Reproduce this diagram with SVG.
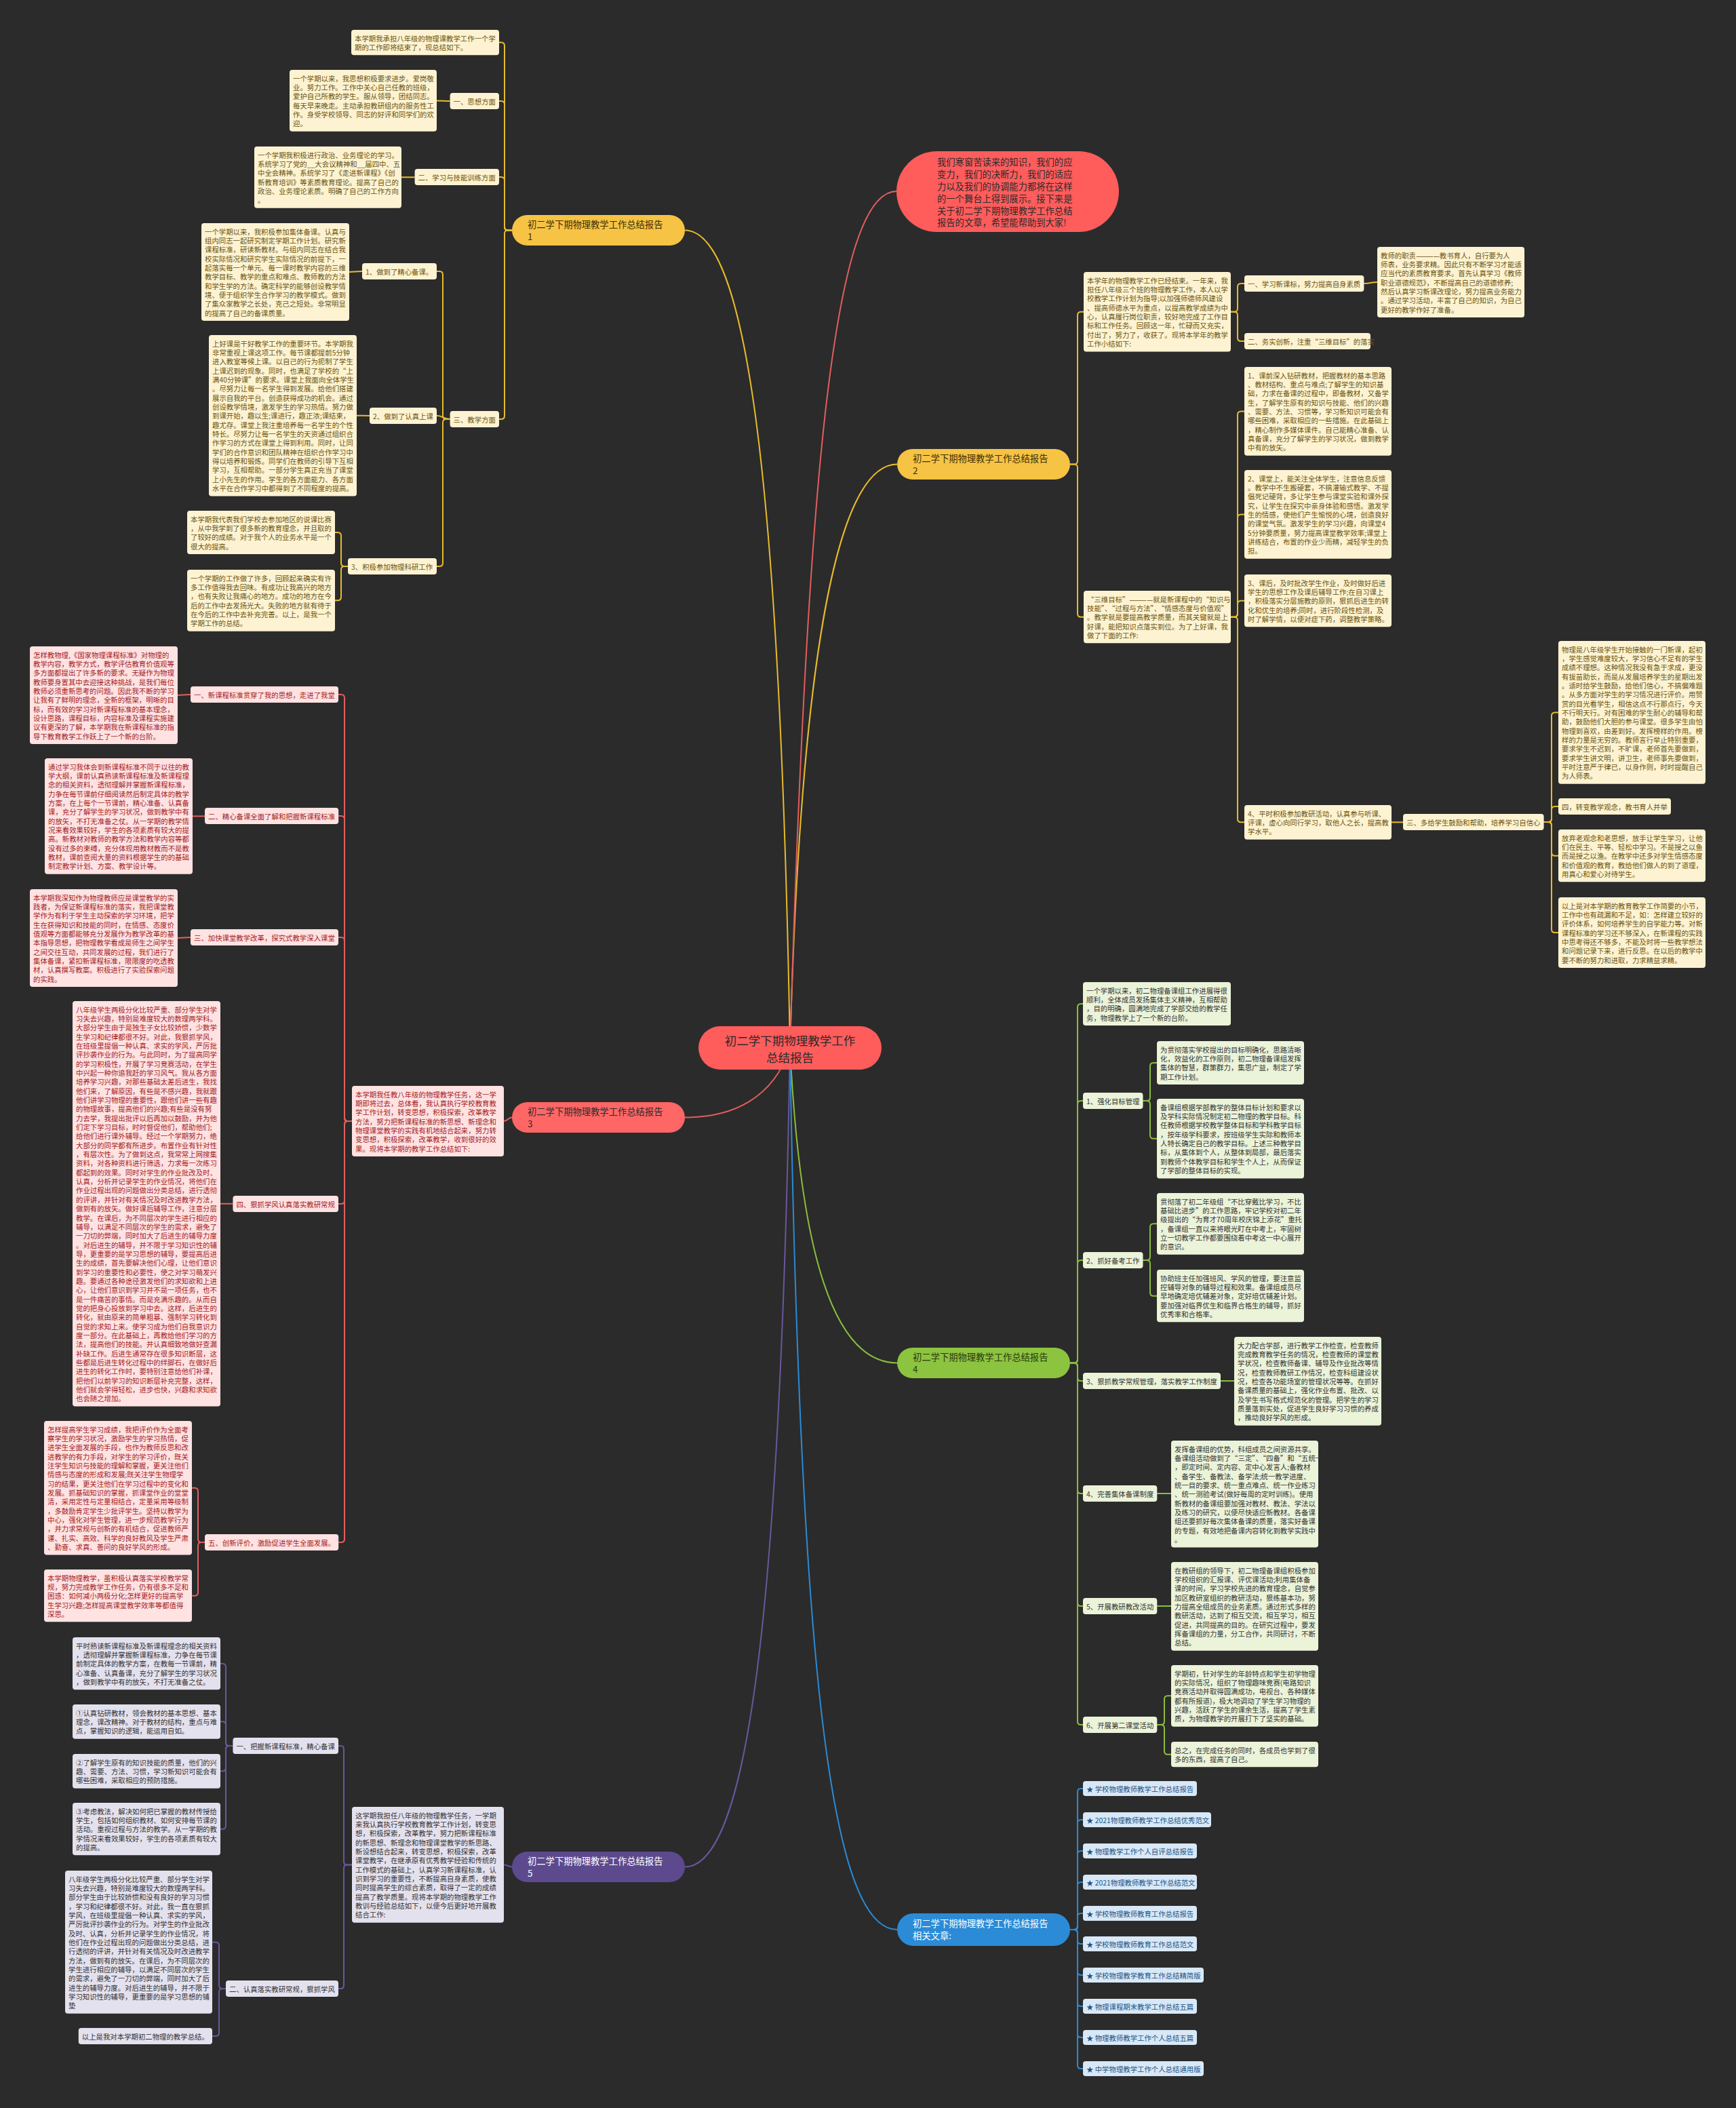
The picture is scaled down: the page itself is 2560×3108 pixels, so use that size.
<svg xmlns="http://www.w3.org/2000/svg" width="2560" height="3108" viewBox="0 0 2560 3108">
<style>
text{font-family:"Noto Sans CJK SC","Noto Sans",sans-serif;font-size:10.4px}
.c{fill:none;stroke-width:2}
.cg{stroke:#e8bb2c}.cr{stroke:#e25e5e}.cn{stroke:#8bbd3c}.cp{stroke:#6a579c}.cb{stroke:#2b8bd6}
.bg{fill:#fdf3d2}.tg{fill:#6b5410}
.br{fill:#ffe2e2}.tr{fill:#a31d26}
.bn{fill:#ebf3d9}.tn{fill:#333333}
.bp{fill:#e4e1ee}.tp{fill:#333333}
.bb{fill:#d8e8f6}.tb{fill:#1c5488}
.nt{font-size:13.3px}
</style>
<rect x="0" y="0" width="2560" height="3108" fill="#2b2b2b"/>

<g id="connectors">
<path class="c cg" stroke-width="2.5" d="M1165 1545 C1150 700 1100 339.5 1010 339.5"/>
<path class="c cg" stroke-width="2.5" d="M1165 1545 C1180 1000 1230 684.5 1323 684.5"/>
<path class="c cr" stroke-width="2.5" d="M1165 1545 C1190 700 1230 282 1322 282"/>
<path class="c cr" stroke-width="2.5" d="M1165 1545 C1140 1620 1080 1647.5 1010 1647.5"/>
<path class="c cn" stroke-width="2.5" d="M1165 1545 C1180 1850 1230 2009.5 1323 2009.5"/>
<path class="c cp" stroke-width="2.5" d="M1165 1545 C1150 2400 1100 2752.5 1010 2752.5"/>
<path class="c cb" stroke-width="2.5" d="M1165 1545 C1180 2500 1230 2845 1323 2845"/>

<path class="c cg" d="M736 62.6 H739 Q744 62.6 744 67.6 V334.5 Q744 339.5 749 339.5 H755"/>
<path class="c cg" d="M736 149 H739 Q744 149 744 154 V334.5 Q744 339.5 749 339.5 H755"/>
<path class="c cg" d="M736 261 H739 Q744 261 744 266 V334.5 Q744 339.5 749 339.5 H755"/>
<path class="c cg" d="M736 618 H739 Q744 618 744 613 V344.5 Q744 339.5 749 339.5 H755"/>
<path class="c cg" d="M644 148.4 C654 148.4 654 149 663.6 149"/>
<path class="c cg" d="M592 261.3 H611.6"/>
<path class="c cg" d="M643 400 H648 Q653 400 653 405 V613 Q653 618 658 618 H663.6"/>
<path class="c cg" d="M643.9 612.7 C653 612.7 653 618 663.6 618"/>
<path class="c cg" d="M643 835 H648 Q653 835 653 830 V623 Q653 618 658 618 H663.6"/>
<path class="c cg" d="M515 401 C524 401 524 400 534 400"/>
<path class="c cg" d="M526 612.7 C535 612.7 535 613 545 613"/>
<path class="c cg" d="M494 785 H498 Q503 785 503 790 V830 Q503 835 508 835 H513"/>
<path class="c cg" d="M494 885.3 H498 Q503 885.3 503 880.3 V840 Q503 835 508 835 H513"/>

<path class="c cg" d="M1598 459.7 H1594 Q1589 459.7 1589 464.7 V679.5 Q1589 684.5 1584 684.5 H1578"/>
<path class="c cg" d="M1598 909.7 H1594 Q1589 909.7 1589 904.7 V689.5 Q1589 684.5 1584 684.5 H1578"/>
<path class="c cg" d="M1835 418 H1830 Q1825 418 1825 423 V454.7 Q1825 459.7 1820 459.7 H1815"/>
<path class="c cg" d="M1835 503 H1830 Q1825 503 1825 498 V464.7 Q1825 459.7 1820 459.7 H1815"/>
<path class="c cg" d="M2011.4 418 C2021 418 2021 416 2031 416"/>
<path class="c cg" d="M1835 606.4 H1830 Q1825 606.4 1825 611.4 V904.7 Q1825 909.7 1820 909.7 H1815"/>
<path class="c cg" d="M1835 758.4 H1830 Q1825 758.4 1825 763.4 V904.7 Q1825 909.7 1820 909.7 H1815"/>
<path class="c cg" d="M1835 885.7 H1830 Q1825 885.7 1825 890.7 V904.7 Q1825 909.7 1820 909.7 H1815"/>
<path class="c cg" d="M1835 1212.3 H1830 Q1825 1212.3 1825 1207.3 V914.7 Q1825 909.7 1820 909.7 H1815"/>
<path class="c cg" d="M2052 1212.3 H2069"/>
<path class="c cg" d="M2298 1050.4 H2293 Q2288 1050.4 2288 1055.4 V1207 Q2288 1212 2283 1212 H2276.6"/>
<path class="c cg" d="M2298 1189 H2293 Q2288 1189 2288 1194 V1207 Q2288 1212 2283 1212 H2276.6"/>
<path class="c cg" d="M2298 1261.7 H2293 Q2288 1261.7 2288 1256.7 V1217 Q2288 1212 2283 1212 H2276.6"/>
<path class="c cg" d="M2298 1375 H2293 Q2288 1375 2288 1370 V1217 Q2288 1212 2283 1212 H2276.6"/>

<path class="c cr" d="M743 1653 C749 1653 749 1647.5 755 1647.5"/>
<path class="c cr" d="M499 1024 H503 Q508 1024 508 1029 V1648 Q508 1653 513 1653 H519"/>
<path class="c cr" d="M499.2 1203 H503 Q508 1203 508 1208 V1648 Q508 1653 513 1653 H519"/>
<path class="c cr" d="M499 1382 H503 Q508 1382 508 1387 V1648 Q508 1653 513 1653 H519"/>
<path class="c cr" d="M499 1775 H503 Q508 1775 508 1770 V1658 Q508 1653 513 1653 H519"/>
<path class="c cr" d="M499.2 2274 H503 Q508 2274 508 2269 V1658 Q508 1653 513 1653 H519"/>
<path class="c cr" d="M262 1025 C271 1025 271 1024 281 1024"/>
<path class="c cr" d="M284 1203.4 H302"/>
<path class="c cr" d="M262 1383 C271 1383 271 1382 281 1382"/>
<path class="c cr" d="M325 1774.8 H343.4"/>
<path class="c cr" d="M283 2193.7 H287 Q292 2193.7 292 2198.7 V2269 Q292 2274 297 2274 H302"/>
<path class="c cr" d="M283 2352.7 H287 Q292 2352.7 292 2347.7 V2279 Q292 2274 297 2274 H302"/>

<path class="c cp" d="M743 2749.4 C749 2749.4 749 2752.5 755 2752.5"/>
<path class="c cp" d="M499 2574 H502 Q507 2574 507 2579 V2744.4 Q507 2749.4 512 2749.4 H519"/>
<path class="c cp" d="M499 2932 H502 Q507 2932 507 2927 V2754.4 Q507 2749.4 512 2749.4 H519"/>
<path class="c cp" d="M325 2452.7 H328 Q333 2452.7 333 2457.7 V2569 Q333 2574 338 2574 H343.4"/>
<path class="c cp" d="M325 2538.3 H328 Q333 2538.3 333 2543.3 V2569 Q333 2574 338 2574 H343.4"/>
<path class="c cp" d="M325 2611.3 H328 Q333 2611.3 333 2606.3 V2579 Q333 2574 338 2574 H343.4"/>
<path class="c cp" d="M325 2696.7 H328 Q333 2696.7 333 2691.7 V2579 Q333 2574 338 2574 H343.4"/>
<path class="c cp" d="M313 2863.4 H318 Q323 2863.4 323 2868.4 V2927 Q323 2932 328 2932 H333"/>
<path class="c cp" d="M313 3002 H318 Q323 3002 323 2997 V2937 Q323 2932 328 2932 H333"/>

<path class="c cn" d="M1597 1480 H1594 Q1589 1480 1589 1485 V2004.5 Q1589 2009.5 1584 2009.5 H1578"/>
<path class="c cn" d="M1597 1623 H1594 Q1589 1623 1589 1628 V2004.5 Q1589 2009.5 1584 2009.5 H1578"/>
<path class="c cn" d="M1597 1858 H1594 Q1589 1858 1589 1863 V2004.5 Q1589 2009.5 1584 2009.5 H1578"/>
<path class="c cn" d="M1597 2036 H1594 Q1589 2036 1589 2031 V2014.5 Q1589 2009.5 1584 2009.5 H1578"/>
<path class="c cn" d="M1597 2202 H1594 Q1589 2202 1589 2197 V2014.5 Q1589 2009.5 1584 2009.5 H1578"/>
<path class="c cn" d="M1597 2368 H1594 Q1589 2368 1589 2363 V2014.5 Q1589 2009.5 1584 2009.5 H1578"/>
<path class="c cn" d="M1597 2543 H1594 Q1589 2543 1589 2538 V2014.5 Q1589 2009.5 1584 2009.5 H1578"/>
<path class="c cn" d="M1706 1567 H1701 Q1696 1567 1696 1572 V1618 Q1696 1623 1691 1623 H1685.5"/>
<path class="c cn" d="M1706 1678.7 H1701 Q1696 1678.7 1696 1673.7 V1628 Q1696 1623 1691 1623 H1685.5"/>
<path class="c cn" d="M1706 1804.3 H1701 Q1696 1804.3 1696 1809.3 V1853 Q1696 1858 1691 1858 H1685.5"/>
<path class="c cn" d="M1706 1910.7 H1701 Q1696 1910.7 1696 1905.7 V1863 Q1696 1858 1691 1858 H1685.5"/>
<path class="c cn" d="M1799.9 2036 H1820"/>
<path class="c cn" d="M1706.3 2202 H1727"/>
<path class="c cn" d="M1706.3 2368 H1727"/>
<path class="c cn" d="M1727 2500.3 H1722 Q1717 2500.3 1717 2505.3 V2538 Q1717 2543 1712 2543 H1706.3"/>
<path class="c cn" d="M1727 2586.7 H1722 Q1717 2586.7 1717 2581.7 V2548 Q1717 2543 1712 2543 H1706.3"/>

<path class="c cb" d="M1597 2637 H1594 Q1589 2637 1589 2642 V2840 Q1589 2845 1584 2845 H1578"/>
<path class="c cb" d="M1597 2683 H1594 Q1589 2683 1589 2688 V2840 Q1589 2845 1584 2845 H1578"/>
<path class="c cb" d="M1597 2729 H1594 Q1589 2729 1589 2734 V2840 Q1589 2845 1584 2845 H1578"/>
<path class="c cb" d="M1597 2775 H1594 Q1589 2775 1589 2780 V2840 Q1589 2845 1584 2845 H1578"/>
<path class="c cb" d="M1597 2821 H1594 Q1589 2821 1589 2826 V2840 Q1589 2845 1584 2845 H1578"/>
<path class="c cb" d="M1597 2866 H1594 Q1589 2866 1589 2861 V2850 Q1589 2845 1584 2845 H1578"/>
<path class="c cb" d="M1597 2912 H1594 Q1589 2912 1589 2907 V2850 Q1589 2845 1584 2845 H1578"/>
<path class="c cb" d="M1597 2958 H1594 Q1589 2958 1589 2953 V2850 Q1589 2845 1584 2845 H1578"/>
<path class="c cb" d="M1597 3004 H1594 Q1589 3004 1589 2999 V2850 Q1589 2845 1584 2845 H1578"/>
<path class="c cb" d="M1597 3050 H1594 Q1589 3050 1589 3045 V2850 Q1589 2845 1584 2845 H1578"/>
</g>

<g id="center">
<rect x="1030" y="1513" width="270" height="64" rx="32" fill="#ff5c5c"/>
<text x="1165" y="1541" text-anchor="middle" fill="#2b2b2b" style="font-size:17.5px"><tspan>初二学下期物理教学工作</tspan><tspan x="1165" dy="25">总结报告</tspan></text>
</g>

<g id="callout">
<rect x="1322" y="223" width="328" height="119" rx="59.5" fill="#ff5c5c"/>
<text x="1382" y="244.3" fill="#2b2b2b" style="font-size:13.3px"><tspan>我们寒窗苦读来的知识，我们的应</tspan><tspan x="1382" dy="17.8">变力，我们的决断力，我们的适应</tspan><tspan x="1382" dy="17.8">力以及我们的协调能力都将在这样</tspan><tspan x="1382" dy="17.8">的一个舞台上得到展示。接下来是</tspan><tspan x="1382" dy="17.8">关于初二学下期物理教学工作总结</tspan><tspan x="1382" dy="17.8">报告的文章，希望能帮助到大家!</tspan></text>
</g>

<g id="branch1">
<rect x="755" y="317" width="255" height="45" rx="22.5" fill="#f6c344"/>
<text class="nt" x="778" y="335.5" fill="#3d2f08"><tspan>初二学下期物理教学工作总结报告</tspan><tspan x="778" dy="18">1</tspan></text>
</g>
<g id="b1-intro"><rect class="bg" x="518" y="44" width="218" height="37.34" rx="4"/><text class="tg" x="523" y="60.7"><tspan>本学期我承担八年级的物理课教学工作一个学</tspan><tspan x="523" dy="13.34">期的工作即将结束了，现总结如下。</tspan></text></g>
<g id="b1-l1"><rect class="bg" x="663.6" y="137" width="72.4" height="24" rx="4"/><text class="tg" x="668.6" y="153.7">一、思想方面</text></g>
<g id="b1-t1"><rect class="bg" x="427" y="103" width="217" height="90.7" rx="4"/><text class="tg" x="432" y="119.7"><tspan>一个学期以来，我思想积极要求进步。爱岗敬</tspan><tspan x="432" dy="13.34">业。努力工作。工作中关心自己任教的班级，</tspan><tspan x="432" dy="13.34">爱护自己所教的学生。服从领导，团结同志。</tspan><tspan x="432" dy="13.34">每天早来晚走。主动承担教研组内的服务性工</tspan><tspan x="432" dy="13.34">作。身受学校领导、同志的好评和同学们的欢</tspan><tspan x="432" dy="13.34">迎。</tspan></text></g>
<g id="b1-l2"><rect class="bg" x="611.6" y="249" width="124.4" height="24" rx="4"/><text class="tg" x="616.6" y="265.7">二、学习与技能训练方面</text></g>
<g id="b1-t2"><rect class="bg" x="375" y="216" width="217" height="90.7" rx="4"/><text class="tg" x="380" y="232.7"><tspan>一个学期我积极进行政治、业务理论的学习。</tspan><tspan x="380" dy="13.34">系统学习了党的__大会议精神和__届四中、五</tspan><tspan x="380" dy="13.34">中全会精神。系统学习了《走进新课程》《创</tspan><tspan x="380" dy="13.34">新教育培训》等素质教育理论。提高了自己的</tspan><tspan x="380" dy="13.34">政治、业务理论素质。明确了自己的工作方向</tspan><tspan x="380" dy="13.34">。</tspan></text></g>
<g id="b1-l3"><rect class="bg" x="663.6" y="606" width="72.4" height="24" rx="4"/><text class="tg" x="668.6" y="622.7">三、教学方面</text></g>
<g id="b1-s1"><rect class="bg" x="534" y="388" width="110" height="24" rx="4"/><text class="tg" x="539" y="404.7">1、做到了精心备课。</text></g>
<g id="b1-s1t"><rect class="bg" x="297" y="329" width="218" height="144.06" rx="4"/><text class="tg" x="302" y="345.7"><tspan>一个学期以来，我积极参加集体备课。认真与</tspan><tspan x="302" dy="13.34">组内同志一起研究制定学期工作计划。研究新</tspan><tspan x="302" dy="13.34">课程标准，研读新教材。与组内同志在结合我</tspan><tspan x="302" dy="13.34">校实际情况和研究学生实际情况的前提下，一</tspan><tspan x="302" dy="13.34">起落实每一个单元、每一课时教学内容的三维</tspan><tspan x="302" dy="13.34">教学目标、教学的重点和难点、教师教的方法</tspan><tspan x="302" dy="13.34">和学生学的方法。确定科学的能够创设教学情</tspan><tspan x="302" dy="13.34">境、便于组织学生合作学习的教学模式。做到</tspan><tspan x="302" dy="13.34">了集众家教学之长处，克己之短处。非常明显</tspan><tspan x="302" dy="13.34">的提高了自己的备课质量。</tspan></text></g>
<g id="b1-s2"><rect class="bg" x="545" y="601" width="99" height="24" rx="4"/><text class="tg" x="550" y="617.7">2、做到了认真上课</text></g>
<g id="b1-s2t"><rect class="bg" x="308" y="494" width="218" height="237.44" rx="4"/><text class="tg" x="313" y="510.7"><tspan>上好课是干好教学工作的重要环节。本学期我</tspan><tspan x="313" dy="13.34">非常重视上课这项工作。每节课都提前5分钟</tspan><tspan x="313" dy="13.34">进入教室等候上课。以自己的行为扼制了学生</tspan><tspan x="313" dy="13.34">上课迟到的现象。同时，也满足了学校的“上</tspan><tspan x="313" dy="13.34">满40分钟课”的要求。课堂上我面向全体学生</tspan><tspan x="313" dy="13.34">。尽努力让每一名学生得到发展。给他们搭建</tspan><tspan x="313" dy="13.34">展示自我的平台。创造获得成功的机会。通过</tspan><tspan x="313" dy="13.34">创设教学情境，激发学生的学习热情。努力做</tspan><tspan x="313" dy="13.34">到课开始，趣以生;课进行，趣正浓;课结束，</tspan><tspan x="313" dy="13.34">趣尤存。课堂上我注重培养每一名学生的个性</tspan><tspan x="313" dy="13.34">特长。尽努力让每一名学生的天资通过组织合</tspan><tspan x="313" dy="13.34">作学习的方式在课堂上得到利用。同时，让同</tspan><tspan x="313" dy="13.34">学们的合作意识和团队精神在组织合作学习中</tspan><tspan x="313" dy="13.34">得以培养和锻炼。同学们在教师的引导下互相</tspan><tspan x="313" dy="13.34">学习，互相帮助。一部分学生真正充当了课堂</tspan><tspan x="313" dy="13.34">上小先生的作用。学生的各方面能力、各方面</tspan><tspan x="313" dy="13.34">水平在合作学习中都得到了不同程度的提高。</tspan></text></g>
<g id="b1-s3"><rect class="bg" x="513" y="823" width="131" height="24" rx="4"/><text class="tg" x="518" y="839.7">3、积极参加物理科研工作</text></g>
<g id="b1-s3t1"><rect class="bg" x="276" y="753" width="218" height="64.02" rx="4"/><text class="tg" x="281" y="769.7"><tspan>本学期我代表我们学校去参加地区的说课比赛</tspan><tspan x="281" dy="13.34">，从中我学到了很多新的教育理念，并且取的</tspan><tspan x="281" dy="13.34">了较好的成绩。对于我个人的业务水平是一个</tspan><tspan x="281" dy="13.34">很大的提高。</tspan></text></g>
<g id="b1-s3t2"><rect class="bg" x="276" y="840" width="218" height="90.7" rx="4"/><text class="tg" x="281" y="856.7"><tspan>一个学期的工作做了许多，回顾起来确实有许</tspan><tspan x="281" dy="13.34">多工作值得我去回味。有成功让我高兴的地方</tspan><tspan x="281" dy="13.34">，也有失败让我痛心的地方。成功的地方在今</tspan><tspan x="281" dy="13.34">后的工作中去发扬光大。失败的地方就有待于</tspan><tspan x="281" dy="13.34">在今后的工作中去补充完善。以上，是我一个</tspan><tspan x="281" dy="13.34">学期工作的总结。</tspan></text></g>

<g id="branch2">
<rect x="1323" y="662" width="255" height="45" rx="22.5" fill="#f6c344"/>
<text class="nt" x="1346" y="680.5" fill="#3d2f08"><tspan>初二学下期物理教学工作总结报告</tspan><tspan x="1346" dy="18">2</tspan></text>
</g>
<g id="b2-intro"><rect class="bg" x="1598" y="401" width="217" height="117.38" rx="4"/><text class="tg" x="1603" y="417.7"><tspan>本学年的物理教学工作已经结束。一年来，我</tspan><tspan x="1603" dy="13.34">担任八年级三个班的物理教学工作，本人以学</tspan><tspan x="1603" dy="13.34">校教学工作计划为指导;以加强师德师风建设</tspan><tspan x="1603" dy="13.34">、提高师德水平为重点，以提高教学成绩为中</tspan><tspan x="1603" dy="13.34">心，认真履行岗位职责，较好地完成了工作目</tspan><tspan x="1603" dy="13.34">标和工作任务。回顾这一年，忙碌而又充实，</tspan><tspan x="1603" dy="13.34">付出了，努力了，收获了。现将本学年的教学</tspan><tspan x="1603" dy="13.34">工作小结如下:</tspan></text></g>
<g id="b2-l1"><rect class="bg" x="1835" y="406" width="176.4" height="24" rx="4"/><text class="tg" x="1840" y="422.7">一、学习新课标，努力提高自身素质</text></g>
<g id="b2-l2"><rect class="bg" x="1835" y="491" width="186" height="24" rx="4"/><text class="tg" x="1840" y="507.7">二、务实创新，注重“三维目标”的落实</text></g>
<g id="b2-tr"><rect class="bg" x="2031" y="364" width="217" height="104.04" rx="4"/><text class="tg" x="2036" y="380.7"><tspan>教师的职责————教书育人，自行要为人</tspan><tspan x="2036" dy="13.34">师表，业务要求精。因此只有不断学习才能适</tspan><tspan x="2036" dy="13.34">应当代的素质教育要求。首先认真学习《教师</tspan><tspan x="2036" dy="13.34">职业道德规范》，不断提高自己的道德修养;</tspan><tspan x="2036" dy="13.34">然后认真学习新课改理论，努力提高业务能力</tspan><tspan x="2036" dy="13.34">。通过学习活动，丰富了自己的知识，为自己</tspan><tspan x="2036" dy="13.34">更好的教学作好了准备。</tspan></text></g>
<g id="b2-3d"><rect class="bg" x="1598" y="871" width="217" height="77.36" rx="4"/><text class="tg" x="1603" y="887.7"><tspan>“三维目标”————就是新课程中的“知识与</tspan><tspan x="1603" dy="13.34">技能”、“过程与方法”、“情感态度与价值观”</tspan><tspan x="1603" dy="13.34">。教学就是要提高教学质量，而其关键就是上</tspan><tspan x="1603" dy="13.34">好课，能把知识点落实到位。为了上好课，我</tspan><tspan x="1603" dy="13.34">做了下面的工作:</tspan></text></g>
<g id="b2-i1"><rect class="bg" x="1835" y="541" width="217" height="130.72" rx="4"/><text class="tg" x="1840" y="557.7"><tspan>1、课前深入钻研教材，把握教材的基本思路</tspan><tspan x="1840" dy="13.34">、教材结构、重点与难点;了解学生的知识基</tspan><tspan x="1840" dy="13.34">础，力求在备课的过程中，即备教材，又备学</tspan><tspan x="1840" dy="13.34">生，了解学生原有的知识与技能、他们的兴趣</tspan><tspan x="1840" dy="13.34">、需要、方法、习惯等，学习新知识可能会有</tspan><tspan x="1840" dy="13.34">哪些困难，采取相应的一些措施。在此基础上</tspan><tspan x="1840" dy="13.34">，精心制作多媒体课件。自己能精心准备、认</tspan><tspan x="1840" dy="13.34">真备课，充分了解学生的学习状况，做到教学</tspan><tspan x="1840" dy="13.34">中有的放矢。</tspan></text></g>
<g id="b2-i2"><rect class="bg" x="1835" y="693" width="217" height="130.72" rx="4"/><text class="tg" x="1840" y="709.7"><tspan>2、课堂上，能关注全体学生，注意信息反馈</tspan><tspan x="1840" dy="13.34">。教学中不生搬硬套，不搞灌输式教学、不提</tspan><tspan x="1840" dy="13.34">倡死记硬背，多让学生参与课堂实验和课外探</tspan><tspan x="1840" dy="13.34">究，让学生在探究中亲身体验和感悟。激发学</tspan><tspan x="1840" dy="13.34">生的情感，使他们产生愉悦的心境，创造良好</tspan><tspan x="1840" dy="13.34">的课堂气氛。激发学生的学习兴趣，向课堂4</tspan><tspan x="1840" dy="13.34">5分钟要质量，努力提高课堂教学效率;课堂上</tspan><tspan x="1840" dy="13.34">讲练结合，布置的作业少而精，减轻学生的负</tspan><tspan x="1840" dy="13.34">担。</tspan></text></g>
<g id="b2-i3"><rect class="bg" x="1835" y="847" width="217" height="77.36" rx="4"/><text class="tg" x="1840" y="863.7"><tspan>3、课后，及时批改学生作业，及时做好后进</tspan><tspan x="1840" dy="13.34">学生的思想工作及课后辅导工作;在自习课上</tspan><tspan x="1840" dy="13.34">，积极落实分层施教的原则，狠抓后进生的转</tspan><tspan x="1840" dy="13.34">化和优生的培养;同时，进行阶段性检测，及</tspan><tspan x="1840" dy="13.34">时了解学情，以便对症下药，调整教学策略。</tspan></text></g>
<g id="b2-i4"><rect class="bg" x="1835" y="1187" width="217" height="50.68" rx="4"/><text class="tg" x="1840" y="1203.7"><tspan>4、平时积极参加教研活动，认真参与听课、</tspan><tspan x="1840" dy="13.34">评课，虚心向同行学习，取他人之长，提高教</tspan><tspan x="1840" dy="13.34">学水平。</tspan></text></g>
<g id="b2-l3"><rect class="bg" x="2069" y="1200" width="207.6" height="24" rx="4"/><text class="tg" x="2074" y="1216.7">三、多给学生鼓励和帮助，培养学习自信心</text></g>
<g id="b2-r1"><rect class="bg" x="2298" y="945" width="217" height="210.76" rx="4"/><text class="tg" x="2303" y="961.7"><tspan>物理是八年级学生开始接触的一门新课，起初</tspan><tspan x="2303" dy="13.34">，学生感觉难度较大，学习信心不足有的学生</tspan><tspan x="2303" dy="13.34">成绩不理想。这种情况我没有急于求成，更没</tspan><tspan x="2303" dy="13.34">有拔苗助长，而是从发展培养学生的星期出发</tspan><tspan x="2303" dy="13.34">。适时给学生鼓励，给他们信心，不搞偏难题</tspan><tspan x="2303" dy="13.34">。从多方面对学生的学习情况进行评价。用赞</tspan><tspan x="2303" dy="13.34">赏的目光看学生，相信这点不行那点行，今天</tspan><tspan x="2303" dy="13.34">不行明天行。对有困难的学生耐心的辅导和帮</tspan><tspan x="2303" dy="13.34">助，鼓励他们大胆的参与课堂。很多学生由怕</tspan><tspan x="2303" dy="13.34">物理到喜欢，由差到好。发挥榜样的作用。榜</tspan><tspan x="2303" dy="13.34">样的力量是无穷的。教师言行举止特别重要，</tspan><tspan x="2303" dy="13.34">要求学生不迟到，不旷课，老师首先要做到，</tspan><tspan x="2303" dy="13.34">要求学生讲文明，讲卫生，老师事先要做到，</tspan><tspan x="2303" dy="13.34">平时注意严于律已，以身作则，时时提醒自己</tspan><tspan x="2303" dy="13.34">为人师表。</tspan></text></g>
<g id="b2-r2"><rect class="bg" x="2298" y="1177" width="166" height="24" rx="4"/><text class="tg" x="2303" y="1193.7">四，转变教学观念，教书育人并举</text></g>
<g id="b2-r3"><rect class="bg" x="2298" y="1223" width="217" height="77.36" rx="4"/><text class="tg" x="2303" y="1239.7"><tspan>放弃老观念和老思想，放手让学生学习，让他</tspan><tspan x="2303" dy="13.34">们在民主、平等、轻松中学习。不是授之以鱼</tspan><tspan x="2303" dy="13.34">而是授之以渔。在教学中还多对学生情感态度</tspan><tspan x="2303" dy="13.34">和价值观的教育，教给他们做人的到了道理，</tspan><tspan x="2303" dy="13.34">用真心和爱心对待学生。</tspan></text></g>
<g id="b2-r4"><rect class="bg" x="2298" y="1323" width="217" height="104.04" rx="4"/><text class="tg" x="2303" y="1339.7"><tspan>以上是对本学期的教育教学工作简要的小节，</tspan><tspan x="2303" dy="13.34">工作中也有疏漏和不足，如：怎样建立较好的</tspan><tspan x="2303" dy="13.34">评价体系，如何培养学生的自学能力等。对新</tspan><tspan x="2303" dy="13.34">课程标准的学习还不够深入，在新课程的实践</tspan><tspan x="2303" dy="13.34">中思考得还不够多，不能及时将一些教学想法</tspan><tspan x="2303" dy="13.34">和问题记录下来，进行反思。在以后的教学中</tspan><tspan x="2303" dy="13.34">要不断的努力和进取，力求精益求精。</tspan></text></g>

<g id="branch3">
<rect x="755" y="1625" width="255" height="45" rx="22.5" fill="#ff6666"/>
<text class="nt" x="778" y="1643.5" fill="#2b2b2b"><tspan>初二学下期物理教学工作总结报告</tspan><tspan x="778" dy="18">3</tspan></text>
</g>
<g id="b3-intro"><rect class="br" x="519" y="1601" width="224" height="104.04" rx="4"/><text class="tr" x="524" y="1617.7"><tspan>本学期我任教八年级的物理教学任务，这一学</tspan><tspan x="524" dy="13.34">期即将过去，总体看，我认真执行学校教育教</tspan><tspan x="524" dy="13.34">学工作计划，转变思想，积极探索，改革教学</tspan><tspan x="524" dy="13.34">方法，努力把新课程标准的新思想、新理念和</tspan><tspan x="524" dy="13.34">物理课堂教学的实践有机地结合起来，努力转</tspan><tspan x="524" dy="13.34">变思想，积极探索，改革教学，收到很好的效</tspan><tspan x="524" dy="13.34">果。现将本学期的教学工作总结如下:</tspan></text></g>
<g id="b3-t1"><rect class="br" x="44" y="953" width="218" height="144.06" rx="4"/><text class="tr" x="49" y="969.7"><tspan>怎样教物理,《国家物理课程标准》对物理的</tspan><tspan x="49" dy="13.34">教学内容，教学方式，教学评估教育价值观等</tspan><tspan x="49" dy="13.34">多方面都提出了许多新的要求。无疑作为物理</tspan><tspan x="49" dy="13.34">教师要身置其中去迎接这种挑战，是我们每位</tspan><tspan x="49" dy="13.34">教师必须重新思考的问题。因此我不断的学习</tspan><tspan x="49" dy="13.34">让我有了鲜明的理念，全新的框架，明晰的目</tspan><tspan x="49" dy="13.34">标，而有效的学习对新课程标准的基本理念，</tspan><tspan x="49" dy="13.34">设计思路，课程目标，内容标准及课程实施建</tspan><tspan x="49" dy="13.34">议有更深的了解，本学期我在新课程标准的指</tspan><tspan x="49" dy="13.34">导下教育教学工作跃上了一个新的台阶。</tspan></text></g>
<g id="b3-l1"><rect class="br" x="281" y="1012" width="218" height="24" rx="4"/><text class="tr" x="286" y="1028.7">一、新课程标准贯穿了我的思想，走进了我堂</text></g>
<g id="b3-t2"><rect class="br" x="66" y="1118" width="218" height="170.74" rx="4"/><text class="tr" x="71" y="1134.7"><tspan>通过学习我体会到新课程标准不同于以往的教</tspan><tspan x="71" dy="13.34">学大纲，课前认真熟读新课程标准及新课程理</tspan><tspan x="71" dy="13.34">念的相关资料，透彻理解并掌握新课程标准，</tspan><tspan x="71" dy="13.34">力争在每节课前仔细阅读然后制定具体的教学</tspan><tspan x="71" dy="13.34">方案，在上每个一节课前，精心准备、认真备</tspan><tspan x="71" dy="13.34">课，充分了解学生的学习状况，做到教学中有</tspan><tspan x="71" dy="13.34">的放矢，不打无准备之仗。从一学期的教学情</tspan><tspan x="71" dy="13.34">况来看效果较好，学生的各项素质有较大的提</tspan><tspan x="71" dy="13.34">高。新教材对教师的教学方法和教学内容等都</tspan><tspan x="71" dy="13.34">没有过多的束缚，充分体现用教材教而不是教</tspan><tspan x="71" dy="13.34">教材，课前查阅大量的资料根据学生的的基础</tspan><tspan x="71" dy="13.34">制定教学计划、方案、教学设计等。</tspan></text></g>
<g id="b3-l2"><rect class="br" x="302" y="1191" width="197.2" height="24" rx="4"/><text class="tr" x="307" y="1207.7">二、精心备课全面了解和把握新课程标准</text></g>
<g id="b3-t3"><rect class="br" x="44" y="1311" width="218" height="144.06" rx="4"/><text class="tr" x="49" y="1327.7"><tspan>本学期我深知作为物理教师应是课堂教学的实</tspan><tspan x="49" dy="13.34">践者，为保证新课程标准的落实，我把课堂教</tspan><tspan x="49" dy="13.34">学作为有利于学生主动探索的学习环境，把学</tspan><tspan x="49" dy="13.34">生在获得知识和技能的同时，在情感、态度价</tspan><tspan x="49" dy="13.34">值观等方面都能够充分发展作为教学改革的基</tspan><tspan x="49" dy="13.34">本指导思想，把物理教学看成是师生之间学生</tspan><tspan x="49" dy="13.34">之间交往互动，共同发展的过程，我们进行了</tspan><tspan x="49" dy="13.34">集体备课，紧扣新课程标准，限限度的吃透教</tspan><tspan x="49" dy="13.34">材，认真撰写教案。积极进行了实验探索问题</tspan><tspan x="49" dy="13.34">的实践。</tspan></text></g>
<g id="b3-l3"><rect class="br" x="281" y="1370" width="218" height="24" rx="4"/><text class="tr" x="286" y="1386.7">三、加快课堂教学改革，探究式教学深入课堂</text></g>
<g id="b3-t4"><rect class="br" x="107" y="1476" width="218" height="597.62" rx="4"/><text class="tr" x="112" y="1492.7"><tspan>八年级学生两极分化比较严重、部分学生对学</tspan><tspan x="112" dy="13.34">习失去兴趣，特别是难度较大的数理两学科。</tspan><tspan x="112" dy="13.34">大部分学生由于是独生子女比较娇惯，少数学</tspan><tspan x="112" dy="13.34">生学习和纪律都很不好。对此，我狠抓学风，</tspan><tspan x="112" dy="13.34">在班级里提倡一种认真、求实的学风，严厉批</tspan><tspan x="112" dy="13.34">评抄袭作业的行为。与此同时，为了提高同学</tspan><tspan x="112" dy="13.34">的学习积极性，开展了学习竞赛活动，在学生</tspan><tspan x="112" dy="13.34">中兴起一种你追我赶的学习风气。我从各方面</tspan><tspan x="112" dy="13.34">培养学习兴趣，对那些基础太差后进生，我找</tspan><tspan x="112" dy="13.34">他们来，了解原因，有些是不感兴趣，我就跟</tspan><tspan x="112" dy="13.34">他们讲学习物理的重要性，跟他们讲一些有趣</tspan><tspan x="112" dy="13.34">的物理故事，提高他们的兴趣;有些是没有努</tspan><tspan x="112" dy="13.34">力去学，我提出批评以后再加以鼓励，并为他</tspan><tspan x="112" dy="13.34">们定下学习目标，时时督促他们，帮助他们;</tspan><tspan x="112" dy="13.34">给他们进行课外辅导。经过一个学期努力，绝</tspan><tspan x="112" dy="13.34">大部分的同学都有所进步。布置作业有针对性</tspan><tspan x="112" dy="13.34">，有层次性。为了做到这点，我常常上网搜集</tspan><tspan x="112" dy="13.34">资料，对各种资料进行筛选，力求每一次练习</tspan><tspan x="112" dy="13.34">都起到的效果。同时对学生的作业批改及时、</tspan><tspan x="112" dy="13.34">认真，分析并记录学生的作业情况，将他们在</tspan><tspan x="112" dy="13.34">作业过程出现的问题做出分类总结，进行透彻</tspan><tspan x="112" dy="13.34">的评讲，并针对有关情况及时改进教学方法，</tspan><tspan x="112" dy="13.34">做到有的放矢。做好课后辅导工作，注意分层</tspan><tspan x="112" dy="13.34">教学。在课后，为不同层次的学生进行相应的</tspan><tspan x="112" dy="13.34">辅导，以满足不同层次的学生的需求，避免了</tspan><tspan x="112" dy="13.34">一刀切的弊端，同时加大了后进生的辅导力度</tspan><tspan x="112" dy="13.34">。对后进生的辅导，并不限于学习知识性的辅</tspan><tspan x="112" dy="13.34">导，更重要的是学习思想的辅导，要提高后进</tspan><tspan x="112" dy="13.34">生的成绩，首先要解决他们心理，让他们意识</tspan><tspan x="112" dy="13.34">到学习的重要性和必要性，使之对学习萌发兴</tspan><tspan x="112" dy="13.34">趣。要通过各种途径激发他们的求知欲和上进</tspan><tspan x="112" dy="13.34">心，让他们意识到学习并不是一项任务，也不</tspan><tspan x="112" dy="13.34">是一件痛苦的事情。而是充满乐趣的。从而自</tspan><tspan x="112" dy="13.34">觉的把身心投放到学习中去。这样，后进生的</tspan><tspan x="112" dy="13.34">转化，就由原来的简单粗暴、强制学习转化到</tspan><tspan x="112" dy="13.34">自觉的求知上来。使学习成为他们自我意识力</tspan><tspan x="112" dy="13.34">度一部分。在此基础上，再教给他们学习的方</tspan><tspan x="112" dy="13.34">法，提高他们的技能。并认真细致地做好查漏</tspan><tspan x="112" dy="13.34">补缺工作。后进生通常存在很多知识断层，这</tspan><tspan x="112" dy="13.34">些都是后进生转化过程中的绊脚石，在做好后</tspan><tspan x="112" dy="13.34">进生的转化工作时，要特别注意给他们补课，</tspan><tspan x="112" dy="13.34">把他们以前学习的知识断层补充完整，这样，</tspan><tspan x="112" dy="13.34">他们就会学得轻松，进步也快，兴趣和求知欲</tspan><tspan x="112" dy="13.34">也会随之增加。</tspan></text></g>
<g id="b3-l4"><rect class="br" x="343.4" y="1763" width="155.6" height="24" rx="4"/><text class="tr" x="348.4" y="1779.7">四、狠抓学风认真落实教研常规</text></g>
<g id="b3-t5"><rect class="br" x="65" y="2095" width="218" height="197.42" rx="4"/><text class="tr" x="70" y="2111.7"><tspan>怎样提高学生学习成绩，我把评价作为全面考</tspan><tspan x="70" dy="13.34">察学生的学习状况，激励学生的学习热情，促</tspan><tspan x="70" dy="13.34">进学生全面发展的手段，也作为教师反思和改</tspan><tspan x="70" dy="13.34">进教学的有力手段，对学生的学习评价，既关</tspan><tspan x="70" dy="13.34">注学生知识与技能的理解和掌握，更关注他们</tspan><tspan x="70" dy="13.34">情感与态度的形成和发展;既关注学生物理学</tspan><tspan x="70" dy="13.34">习的结果，更关注他们在学习过程中的变化和</tspan><tspan x="70" dy="13.34">发展。抓基础知识的掌握，抓课堂作业的堂堂</tspan><tspan x="70" dy="13.34">清，采用定性与定量相结合，定量采用等级制</tspan><tspan x="70" dy="13.34">，多鼓励肯定学生少批评学生。坚持以教学为</tspan><tspan x="70" dy="13.34">中心，强化对学生管理，进一步规范教学行为</tspan><tspan x="70" dy="13.34">，并力求常规与创新的有机结合，促进教师严</tspan><tspan x="70" dy="13.34">谨、扎实、高效、科学的良好教风及学生严肃</tspan><tspan x="70" dy="13.34">、勤奋、求真、善问的良好学风的形成。</tspan></text></g>
<g id="b3-t6"><rect class="br" x="65" y="2314" width="218" height="77.36" rx="4"/><text class="tr" x="70" y="2330.7"><tspan>本学期物理教学，虽积极认真落实学校教学常</tspan><tspan x="70" dy="13.34">规，努力完成教学工作任务，仍有很多不足和</tspan><tspan x="70" dy="13.34">困惑：如何减小两极分化;怎样更好的提高学</tspan><tspan x="70" dy="13.34">生学习兴趣;怎样提高课堂教学效率等都值得</tspan><tspan x="70" dy="13.34">深思。</tspan></text></g>
<g id="b3-l5"><rect class="br" x="302" y="2262" width="197.2" height="24" rx="4"/><text class="tr" x="307" y="2278.7">五、创新评价，激励促进学生全面发展。</text></g>

<g id="branch4">
<rect x="1323" y="1987" width="255" height="45" rx="22.5" fill="#8cc43f"/>
<text class="nt" x="1346" y="2005.5" fill="#2b3a10"><tspan>初二学下期物理教学工作总结报告</tspan><tspan x="1346" dy="18">4</tspan></text>
</g>
<g id="b4-intro"><rect class="bn" x="1597" y="1448" width="218" height="64.02" rx="4"/><text class="tn" x="1602" y="1464.7"><tspan>一个学期以来，初二物理备课组工作进展得很</tspan><tspan x="1602" dy="13.34">顺利，全体成员发扬集体主义精神，互相帮助</tspan><tspan x="1602" dy="13.34">，目的明确，圆满地完成了学部交给的教学任</tspan><tspan x="1602" dy="13.34">务，物理教学上了一个新的台阶。</tspan></text></g>
<g id="b4-l1"><rect class="bn" x="1597" y="1611" width="88.5" height="24" rx="4"/><text class="tn" x="1602" y="1627.7">1、强化目标管理</text></g>
<g id="b4-l1a"><rect class="bn" x="1706" y="1535" width="217" height="64.02" rx="4"/><text class="tn" x="1711" y="1551.7"><tspan>为贯彻落实学校提出的目标明确化，思路清晰</tspan><tspan x="1711" dy="13.34">化，效益化的工作原则，初二物理备课组发挥</tspan><tspan x="1711" dy="13.34">集体的智慧，群策群力，集思广益，制定了学</tspan><tspan x="1711" dy="13.34">期工作计划。</tspan></text></g>
<g id="b4-l1b"><rect class="bn" x="1706" y="1620" width="217" height="117.38" rx="4"/><text class="tn" x="1711" y="1636.7"><tspan>备课组根据学部教学的整体目标计划和要求以</tspan><tspan x="1711" dy="13.34">及学科实际情况制定初二物理的教学目标。科</tspan><tspan x="1711" dy="13.34">任教师根据学校教学整体目标和学科教学目标</tspan><tspan x="1711" dy="13.34">，按年级学科要求，按班级学生实际和教师本</tspan><tspan x="1711" dy="13.34">人特长确定自己的教学目标。上述三种教学目</tspan><tspan x="1711" dy="13.34">标，从集体到个人，从整体到局部，最后落实</tspan><tspan x="1711" dy="13.34">到教师个体教学目标和学生个人上，从而保证</tspan><tspan x="1711" dy="13.34">了学部的整体目标的实现。</tspan></text></g>
<g id="b4-l2"><rect class="bn" x="1597" y="1846" width="88.5" height="24" rx="4"/><text class="tn" x="1602" y="1862.7">2、抓好备考工作</text></g>
<g id="b4-l2a"><rect class="bn" x="1706" y="1759" width="217" height="90.7" rx="4"/><text class="tn" x="1711" y="1775.7"><tspan>贯彻落了初二年级组“不比穿戴比学习，不比</tspan><tspan x="1711" dy="13.34">基础比进步”的工作思路，牢记学校对初二年</tspan><tspan x="1711" dy="13.34">级提出的“为育才70周年校庆锦上添花”重托</tspan><tspan x="1711" dy="13.34">，备课组一直以来将眼光盯在中考上，牢固树</tspan><tspan x="1711" dy="13.34">立一切教学工作都要围绕着中考这一中心展开</tspan><tspan x="1711" dy="13.34">的意识。</tspan></text></g>
<g id="b4-l2b"><rect class="bn" x="1706" y="1872" width="217" height="77.36" rx="4"/><text class="tn" x="1711" y="1888.7"><tspan>协助班主任加强班风、学风的管理，要注意监</tspan><tspan x="1711" dy="13.34">控辅导对象的辅导过程和效果。备课组成员尽</tspan><tspan x="1711" dy="13.34">早地确定培优辅差对象，定好培优辅差计划。</tspan><tspan x="1711" dy="13.34">要加强对临界优生和临界合格生的辅导，抓好</tspan><tspan x="1711" dy="13.34">优秀率和合格率。</tspan></text></g>
<g id="b4-l3"><rect class="bn" x="1597" y="2024" width="203" height="24" rx="4"/><text class="tn" x="1602" y="2040.7">3、狠抓教学常规管理，落实教学工作制度</text></g>
<g id="b4-l3a"><rect class="bn" x="1820" y="1971" width="217" height="130.72" rx="4"/><text class="tn" x="1825" y="1987.7"><tspan>大力配合学部，进行教学工作检查，检查教师</tspan><tspan x="1825" dy="13.34">完成教育教学任务的情况，检查教师的课堂教</tspan><tspan x="1825" dy="13.34">学状况，检查教师备课、辅导及作业批改等情</tspan><tspan x="1825" dy="13.34">况，检查教师教研工作情况，检查科组建设状</tspan><tspan x="1825" dy="13.34">况，检查各功能场室的管理状况等等。在抓好</tspan><tspan x="1825" dy="13.34">备课质量的基础上，强化作业布置、批改、以</tspan><tspan x="1825" dy="13.34">及学生书写格式规范化的管理。把学生的学习</tspan><tspan x="1825" dy="13.34">质量落到实处，促进学生良好学习习惯的养成</tspan><tspan x="1825" dy="13.34">，推动良好学风的形成。</tspan></text></g>
<g id="b4-l4"><rect class="bn" x="1597" y="2190" width="109.3" height="24" rx="4"/><text class="tn" x="1602" y="2206.7">4、完善集体备课制度</text></g>
<g id="b4-l4a"><rect class="bn" x="1727" y="2124" width="217" height="157.4" rx="4"/><text class="tn" x="1732" y="2140.7"><tspan>发挥备课组的优势，科组成员之间资源共享。</tspan><tspan x="1732" dy="13.34">备课组活动做到了“三定”、“四备”和“五统一”</tspan><tspan x="1732" dy="13.34">，即定时间、定内容、定中心发言人;备教材</tspan><tspan x="1732" dy="13.34">、备学生、备教法、备学法;统一教学进度、</tspan><tspan x="1732" dy="13.34">统一目的要求、统一重点难点、统一作业练习</tspan><tspan x="1732" dy="13.34">、统一测验考试(做好每周的定时训练)。使用</tspan><tspan x="1732" dy="13.34">新教材的备课组要加强对教材、教法、学法以</tspan><tspan x="1732" dy="13.34">及练习的研究，以便尽快适应新教材。各备课</tspan><tspan x="1732" dy="13.34">组还要抓好每次集体备课的质量，落实好备课</tspan><tspan x="1732" dy="13.34">的专题，有效地把备课内容转化到教学实践中</tspan><tspan x="1732" dy="13.34">。</tspan></text></g>
<g id="b4-l5"><rect class="bn" x="1597" y="2356" width="109.3" height="24" rx="4"/><text class="tn" x="1602" y="2372.7">5、开展教研教改活动</text></g>
<g id="b4-l5a"><rect class="bn" x="1727" y="2303" width="217" height="130.72" rx="4"/><text class="tn" x="1732" y="2319.7"><tspan>在教研组的领导下，初二物理备课组积极参加</tspan><tspan x="1732" dy="13.34">学校组织的汇报课、评优课活动;利用集体备</tspan><tspan x="1732" dy="13.34">课的时间，学习学校先进的教育理念，自觉参</tspan><tspan x="1732" dy="13.34">加区教研室组织的教研活动，狠练基本功，努</tspan><tspan x="1732" dy="13.34">力提高全组成员的业务素质。通过形式多样的</tspan><tspan x="1732" dy="13.34">教研活动，达到了相互交流，相互学习，相互</tspan><tspan x="1732" dy="13.34">促进，共同提高的目的。在研究过程中，要发</tspan><tspan x="1732" dy="13.34">挥备课组的力量，分工合作，共同研讨，不断</tspan><tspan x="1732" dy="13.34">总结。</tspan></text></g>
<g id="b4-l6"><rect class="bn" x="1597" y="2531" width="109.3" height="24" rx="4"/><text class="tn" x="1602" y="2547.7">6、开展第二课堂活动</text></g>
<g id="b4-l6a"><rect class="bn" x="1727" y="2455" width="217" height="90.7" rx="4"/><text class="tn" x="1732" y="2471.7"><tspan>学期初，针对学生的年龄特点和学生初学物理</tspan><tspan x="1732" dy="13.34">的实际情况，组织了物理趣味竞赛(电路知识</tspan><tspan x="1732" dy="13.34">竞赛活动并取得圆满成功，电视台、各种媒体</tspan><tspan x="1732" dy="13.34">都有所报道)，极大地调动了学生学习物理的</tspan><tspan x="1732" dy="13.34">兴趣，活跃了学生的课余生活，提高了学生素</tspan><tspan x="1732" dy="13.34">质，为物理教学的开展打下了坚实的基础。</tspan></text></g>
<g id="b4-l6b"><rect class="bn" x="1727" y="2568" width="217" height="37.34" rx="4"/><text class="tn" x="1732" y="2584.7"><tspan>总之，在完成任务的同时，各成员也学到了很</tspan><tspan x="1732" dy="13.34">多的东西，提高了自己。</tspan></text></g>

<g id="branch5">
<rect x="755" y="2730" width="255" height="45" rx="22.5" fill="#5d4a8e"/>
<text class="nt" x="778" y="2748.5" fill="#ffffff"><tspan>初二学下期物理教学工作总结报告</tspan><tspan x="778" dy="18">5</tspan></text>
</g>
<g id="b5-intro"><rect class="bp" x="519" y="2664" width="224" height="170.74" rx="4"/><text class="tp" x="524" y="2680.7"><tspan>这学期我担任八年级的物理教学任务，一学期</tspan><tspan x="524" dy="13.34">来我认真执行学校教育教学工作计划，转变思</tspan><tspan x="524" dy="13.34">想，积极探索，改革教学，努力把新课程标准</tspan><tspan x="524" dy="13.34">的新思想、新理念和物理课堂教学的新思路、</tspan><tspan x="524" dy="13.34">新设想结合起来，转变思想，积极探索，改革</tspan><tspan x="524" dy="13.34">课堂教学，在继承原有优秀教学经验和传统的</tspan><tspan x="524" dy="13.34">工作模式的基础上，认真学习新课程标准，认</tspan><tspan x="524" dy="13.34">识到学习的重要性，不断提高自身素质，使教</tspan><tspan x="524" dy="13.34">同时提高学生的综合素质，取得了一定的成绩</tspan><tspan x="524" dy="13.34">提高了教学质量。现将本学期的物理教学工作</tspan><tspan x="524" dy="13.34">教训与经验总结如下，以便今后更好地开展教</tspan><tspan x="524" dy="13.34">结合工作:</tspan></text></g>
<g id="b5-l1"><rect class="bp" x="343.4" y="2562" width="155.6" height="24" rx="4"/><text class="tp" x="348.4" y="2578.7">一、把握新课程标准，精心备课</text></g>
<g id="b5-t1"><rect class="bp" x="107" y="2414" width="218" height="77.36" rx="4"/><text class="tp" x="112" y="2430.7"><tspan>平时熟读新课程标准及新课程理念的相关资料</tspan><tspan x="112" dy="13.34">，透彻理解并掌握新课程标准，力争在每节课</tspan><tspan x="112" dy="13.34">前制定具体的教学方案，在教每一节课前，精</tspan><tspan x="112" dy="13.34">心准备、认真备课，充分了解学生的学习状况</tspan><tspan x="112" dy="13.34">，做到教学中有的放矢，不打无准备之仗。</tspan></text></g>
<g id="b5-t2"><rect class="bp" x="107" y="2513" width="218" height="50.68" rx="4"/><text class="tp" x="112" y="2529.7"><tspan>①认真钻研教材，领会教材的基本思想、基本</tspan><tspan x="112" dy="13.34">理念，课改精神。对于教材的结构，重点与难</tspan><tspan x="112" dy="13.34">点，掌握知识的逻辑，能运用自如。</tspan></text></g>
<g id="b5-t3"><rect class="bp" x="107" y="2586" width="218" height="50.68" rx="4"/><text class="tp" x="112" y="2602.7"><tspan>②了解学生原有的知识技能的质量，他们的兴</tspan><tspan x="112" dy="13.34">趣、需要、方法、习惯，学习新知识可能会有</tspan><tspan x="112" dy="13.34">哪些困难，采取相应的预防措施。</tspan></text></g>
<g id="b5-t4"><rect class="bp" x="107" y="2658" width="218" height="77.36" rx="4"/><text class="tp" x="112" y="2674.7"><tspan>③考虑教法，解决如何把已掌握的教材传授给</tspan><tspan x="112" dy="13.34">学生，包括如何组织教材、如何安排每节课的</tspan><tspan x="112" dy="13.34">活动。重视过程与方法的教学。从一学期的教</tspan><tspan x="112" dy="13.34">学情况来看效果较好，学生的各项素质有较大</tspan><tspan x="112" dy="13.34">的提高。</tspan></text></g>
<g id="b5-l2"><rect class="bp" x="333" y="2920" width="166" height="24" rx="4"/><text class="tp" x="338" y="2936.7">二、认真落实教研常规，狠抓学风</text></g>
<g id="b5-t5"><rect class="bp" x="96" y="2758" width="217" height="210.76" rx="4"/><text class="tp" x="101" y="2774.7"><tspan>八年级学生两极分化比较严重、部分学生对学</tspan><tspan x="101" dy="13.34">习失去兴趣，特别是难度较大的数理两学科。</tspan><tspan x="101" dy="13.34">部分学生由于比较娇惯和没有良好的学习习惯</tspan><tspan x="101" dy="13.34">，学习和纪律都很不好。对此，我一直在狠抓</tspan><tspan x="101" dy="13.34">学风，在班级里提倡一种认真、求实的学风，</tspan><tspan x="101" dy="13.34">严厉批评抄袭作业的行为。对学生的作业批改</tspan><tspan x="101" dy="13.34">及时、认真，分析并记录学生的作业情况，将</tspan><tspan x="101" dy="13.34">他们在作业过程出现的问题做出分类总结，进</tspan><tspan x="101" dy="13.34">行透彻的评讲，并针对有关情况及时改进教学</tspan><tspan x="101" dy="13.34">方法，做到有的放矢。在课后，为不同层次的</tspan><tspan x="101" dy="13.34">学生进行相应的辅导，以满足不同层次的学生</tspan><tspan x="101" dy="13.34">的需求，避免了一刀切的弊端，同时加大了后</tspan><tspan x="101" dy="13.34">进生的辅导力度。对后进生的辅导，并不限于</tspan><tspan x="101" dy="13.34">学习知识性的辅导，更重要的是学习思想的铺</tspan><tspan x="101" dy="13.34">垫</tspan></text></g>
<g id="b5-t6"><rect class="bp" x="115.8" y="2990" width="197.2" height="24" rx="4"/><text class="tp" x="120.8" y="3006.7">以上是我对本学期初二物理的教学总结。</text></g>

<g id="branch6">
<rect x="1323" y="2821" width="255" height="48" rx="24" fill="#2b8bd6"/>
<text class="nt" x="1346" y="2840.5" fill="#ffffff"><tspan>初二学下期物理教学工作总结报告</tspan><tspan x="1346" dy="18">相关文章:</tspan></text>
</g>
<g id="rel1"><rect class="bb" x="1597" y="2626" width="168" height="22" rx="4"/><text class="tb" x="1602" y="2641.5">★ 学校物理教师教学工作总结报告</text></g>
<g id="rel2"><rect class="bb" x="1597" y="2672" width="189" height="22" rx="4"/><text class="tb" x="1602" y="2687.5">★ 2021物理教师教学工作总结优秀范文</text></g>
<g id="rel3"><rect class="bb" x="1597" y="2718" width="168" height="22" rx="4"/><text class="tb" x="1602" y="2733.5">★ 物理教学工作个人自评总结报告</text></g>
<g id="rel4"><rect class="bb" x="1597" y="2764" width="168" height="22" rx="4"/><text class="tb" x="1602" y="2779.5">★ 2021物理教师教学工作总结范文</text></g>
<g id="rel5"><rect class="bb" x="1597" y="2810" width="168" height="22" rx="4"/><text class="tb" x="1602" y="2825.5">★ 学校物理教师教育工作总结报告</text></g>
<g id="rel6"><rect class="bb" x="1597" y="2855" width="168" height="22" rx="4"/><text class="tb" x="1602" y="2870.5">★ 学校物理教师教育工作总结范文</text></g>
<g id="rel7"><rect class="bb" x="1597" y="2901" width="178" height="22" rx="4"/><text class="tb" x="1602" y="2916.5">★ 学校物理教学教育工作总结精简版</text></g>
<g id="rel8"><rect class="bb" x="1597" y="2947" width="168" height="22" rx="4"/><text class="tb" x="1602" y="2962.5">★ 物理课程期末教学工作总结五篇</text></g>
<g id="rel9"><rect class="bb" x="1597" y="2993" width="168" height="22" rx="4"/><text class="tb" x="1602" y="3008.5">★ 物理教师教学工作个人总结五篇</text></g>
<g id="rel10"><rect class="bb" x="1597" y="3039" width="178" height="22" rx="4"/><text class="tb" x="1602" y="3054.5">★ 中学物理教学工作个人总结通用版</text></g>
</svg>
